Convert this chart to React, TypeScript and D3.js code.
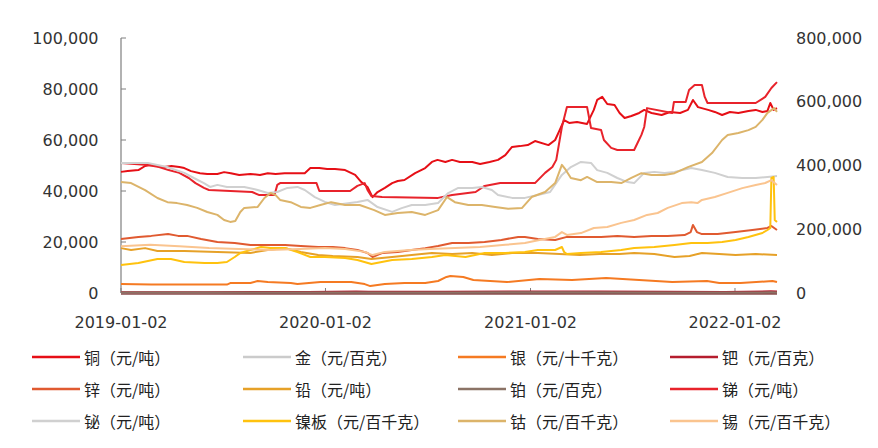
import React from "react";
import * as d3 from "d3";

type Pt = [string, number];

// ---------- data ----------
const copper: Pt[] = [["2019-01-02",47500],["2019-01-14",47800],["2019-02-02",48200],["2019-02-14",49800],["2019-02-23",50200],["2019-03-07",49800],["2019-03-20",49400],["2019-04-02",49800],["2019-04-16",49400],["2019-04-25",49000],["2019-05-07",47800],["2019-05-23",47000],["2019-06-05",46700],["2019-06-23",46700],["2019-07-05",47400],["2019-07-17",47000],["2019-08-01",46300],["2019-08-21",46700],["2019-09-07",46300],["2019-09-21",47000],["2019-10-05",46700],["2019-10-21",47000],["2019-11-06",47000],["2019-11-26",47000],["2019-12-06",49000],["2019-12-22",49000],["2020-01-05",48600],["2020-01-19",48600],["2020-02-06",48200],["2020-02-24",46300],["2020-03-06",43500],["2020-03-17",41600],["2020-03-26",37600],["2020-04-04",39600],["2020-04-17",41200],["2020-04-30",43100],["2020-05-10",43900],["2020-05-22",44300],["2020-06-10",47000],["2020-06-28",49000],["2020-07-10",51400],["2020-07-20",52200],["2020-08-03",51400],["2020-08-15",52200],["2020-08-29",51400],["2020-09-20",51400],["2020-10-04",50600],["2020-10-21",51400],["2020-11-05",52200],["2020-11-18",54100],["2020-11-30",57300],["2020-12-14",57600],["2020-12-28",58000],["2021-01-10",59600],["2021-02-03",58000],["2021-02-15",60000],["2021-02-23",63900],["2021-03-03",67800],["2021-03-12",66700],["2021-03-26",67100],["2021-04-13",66300],["2021-04-25",71800],["2021-05-01",75700],["2021-05-10",76900],["2021-05-19",74100],["2021-06-01",73700],["2021-06-10",70600],["2021-06-19",68600],["2021-07-01",69400],["2021-07-15",70600],["2021-07-24",71800],["2021-08-06",70600],["2021-08-24",69800],["2021-09-08",71000],["2021-09-26",70600],["2021-10-10",71800],["2021-10-19",75700],["2021-10-28",72900],["2021-11-15",71800],["2021-11-27",71000],["2021-12-10",69800],["2021-12-24",71000],["2022-01-08",70600],["2022-01-26",71400],["2022-02-08",71800],["2022-02-20",71000],["2022-03-01",71400],["2022-03-06",74500],["2022-03-12",71800],["2022-03-18",72500]];

const gold: Pt[] = [["2019-01-02",286],["2019-06-03",300],["2019-09-04",355],["2020-01-02",345],["2020-03-16",360],["2020-08-06",440],["2020-12-01",380],["2021-03-31",355],["2021-09-01",370],["2022-01-04",372],["2022-03-08",420],["2022-03-18",405]];

const silver: Pt[] = [["2019-01-02",3500],["2019-02-25",3300],["2019-04-25",3300],["2019-07-10",3300],["2019-07-16",3900],["2019-08-21",3900],["2019-09-03",4700],["2019-09-21",4300],["2019-11-01",3900],["2019-11-13",3500],["2019-12-24",4300],["2020-02-17",4300],["2020-03-12",3500],["2020-03-22",2700],["2020-04-17",3500],["2020-05-22",3900],["2020-06-28",3900],["2020-07-21",4700],["2020-08-05",6300],["2020-08-12",6700],["2020-09-04",6300],["2020-09-22",5100],["2020-11-21",4300],["2021-01-18",5500],["2021-03-17",5100],["2021-05-17",5900],["2021-07-15",5100],["2021-09-12",4300],["2021-11-13",4700],["2021-12-05",3900],["2022-01-12",3900],["2022-03-10",4700],["2022-03-18",4300]];

const palladium: Pt[] = [["2019-01-02",270],["2019-06-03",330],["2019-12-02",420],["2020-02-26",600],["2020-03-19",450],["2020-08-03",500],["2021-05-04",620],["2021-09-01",450],["2021-12-15",400],["2022-03-07",650],["2022-03-18",560]];

const zinc: Pt[] = [["2019-01-02",21200],["2019-02-02",22000],["2019-02-25",22400],["2019-03-27",23100],["2019-04-14",22400],["2019-04-30",22400],["2019-05-25",21200],["2019-06-23",20000],["2019-07-24",19600],["2019-08-21",18800],["2019-09-21",18800],["2019-10-22",18800],["2019-11-19",18400],["2019-12-20",18000],["2020-01-15",18000],["2020-02-06",17600],["2020-02-28",16900],["2020-03-17",15700],["2020-03-26",14100],["2020-04-12",15700],["2020-05-10",16100],["2020-06-04",16900],["2020-06-28",17600],["2020-07-21",18400],["2020-08-15",19600],["2020-09-13",19600],["2020-10-12",20000],["2020-11-11",20800],["2020-12-11",22000],["2020-12-23",22000],["2021-01-15",21200],["2021-02-15",20800],["2021-03-08",22000],["2021-04-08",22000],["2021-05-08",22000],["2021-06-06",22400],["2021-07-06",22000],["2021-08-06",22400],["2021-09-04",22400],["2021-10-04",22700],["2021-10-15",23900],["2021-10-19",26700],["2021-10-26",23900],["2021-11-04",23100],["2021-12-02",23100],["2022-01-03",23900],["2022-02-02",24700],["2022-03-01",25500],["2022-03-08",26300],["2022-03-18",24700]];

const lead: Pt[] = [["2019-01-02",17600],["2019-01-20",16900],["2019-02-14",17600],["2019-03-08",16500],["2019-04-25",16500],["2019-06-23",16100],["2019-08-21",15700],["2019-09-21",16900],["2019-10-22",17600],["2019-11-19",16100],["2019-12-20",14900],["2020-01-15",14500],["2020-02-28",14100],["2020-03-24",13300],["2020-04-30",14100],["2020-06-04",14900],["2020-07-10",15700],["2020-08-15",15300],["2020-09-20",15700],["2020-10-25",14900],["2020-11-30",15700],["2021-01-15",15700],["2021-02-23",15300],["2021-03-31",14900],["2021-05-05",15300],["2021-06-10",15300],["2021-07-06",15700],["2021-08-11",15300],["2021-09-16",14100],["2021-10-13",14500],["2021-11-04",15700],["2021-12-05",15300],["2022-01-03",14900],["2022-02-08",15300],["2022-03-18",14900]];

const platinum: Pt[] = [["2019-01-02",190],["2019-09-05",225],["2020-02-20",230],["2020-03-19",150],["2020-08-10",215],["2021-02-17",285],["2021-09-01",215],["2021-12-15",205],["2022-03-08",250],["2022-03-18",230]];

const antimony: Pt[] = [["2019-01-02",51000],["2019-02-19",50200],["2019-03-11",49400],["2019-03-28",48200],["2019-04-16",47100],["2019-05-03",45100],["2019-05-15",43100],["2019-05-30",41200],["2019-06-08",40400],["2019-08-24",39600],["2019-09-06",38400],["2019-10-03",38400],["2019-10-08",42400],["2019-10-13",43100],["2019-12-17",43100],["2019-12-22",40000],["2020-02-15",40000],["2020-02-28",42000],["2020-03-12",43100],["2020-03-17",40400],["2020-03-24",38000],["2020-04-12",37600],["2020-07-21",37300],["2020-08-15",38400],["2020-09-26",39600],["2020-10-12",42000],["2020-11-09",43100],["2021-01-10",43100],["2021-01-28",47100],["2021-02-10",49400],["2021-02-17",52200],["2021-02-27",65100],["2021-03-08",72900],["2021-04-13",72900],["2021-04-20",64700],["2021-05-08",63900],["2021-05-13",60000],["2021-05-26",56900],["2021-06-06",56100],["2021-07-06",56100],["2021-07-12",58800],["2021-07-19",62000],["2021-07-24",65100],["2021-07-29",72500],["2021-09-12",70600],["2021-09-15",74900],["2021-10-06",74900],["2021-10-12",79600],["2021-10-22",81600],["2021-11-04",81600],["2021-11-09",76900],["2021-11-14",74500],["2022-02-08",74500],["2022-02-25",76900],["2022-03-08",80400],["2022-03-18",82700]];

const bismuth: Pt[] = [["2019-01-02",51000],["2019-02-19",51000],["2019-03-25",49400],["2019-04-25",47100],["2019-05-12",45100],["2019-05-30",43100],["2019-06-10",41600],["2019-06-23",42400],["2019-07-10",41600],["2019-08-10",41600],["2019-09-03",40400],["2019-09-21",39200],["2019-10-08",39600],["2019-10-26",41200],["2019-11-13",41600],["2019-11-26",40400],["2019-12-14",37600],["2020-01-01",35700],["2020-01-19",34500],["2020-02-28",35700],["2020-03-17",36500],["2020-04-04",33700],["2020-04-30",31800],["2020-05-17",33300],["2020-06-04",34500],["2020-06-28",34500],["2020-07-21",35300],["2020-08-08",39200],["2020-08-26",41200],["2020-09-20",41200],["2020-10-07",41600],["2020-10-25",40400],["2020-11-05",38400],["2020-11-30",37300],["2020-12-23",37300],["2021-01-15",38400],["2021-02-06",39600],["2021-02-27",46300],["2021-03-15",49400],["2021-04-02",51400],["2021-04-20",51000],["2021-05-01",48200],["2021-05-19",47100],["2021-06-06",45100],["2021-06-24",43500],["2021-07-06",43100],["2021-07-24",47100],["2021-08-11",47500],["2021-08-29",47100],["2021-09-16",47500],["2021-10-16",49000],["2021-11-04",48200],["2021-11-27",47100],["2021-12-20",45500],["2022-01-15",45100],["2022-02-08",45100],["2022-03-01",45500],["2022-03-18",45900]];

const nickel: Pt[] = [["2019-01-02",87800],["2019-02-02",94100],["2019-03-08",106700],["2019-04-01",106700],["2019-04-25",97200],["2019-05-31",94100],["2019-06-23",94100],["2019-07-10",97200],["2019-07-24",112900],["2019-08-03",125500],["2019-08-21",134900],["2019-09-09",144300],["2019-09-26",141200],["2019-10-22",141200],["2019-11-13",128600],["2019-12-06",112900],["2020-01-01",112900],["2020-02-06",109800],["2020-02-28",103500],["2020-03-24",91000],["2020-04-30",103500],["2020-06-04",106700],["2020-07-10",112900],["2020-08-03",119200],["2020-09-08",112900],["2020-10-12",125500],["2020-11-18",125500],["2020-12-23",128600],["2021-01-15",134900],["2021-02-15",134900],["2021-02-27",144300],["2021-03-03",128600],["2021-03-08",122300],["2021-04-02",125500],["2021-05-08",128600],["2021-06-13",134900],["2021-07-06",141200],["2021-08-11",144300],["2021-09-16",150600],["2021-10-16",156900],["2021-11-14",156900],["2021-12-10",160000],["2022-01-03",166300],["2022-01-26",175700],["2022-02-20",188200],["2022-03-01",197600],["2022-03-06",203900],["2022-03-08",360800],["2022-03-12",363900],["2022-03-14",229000],["2022-03-18",222700]];

const cobalt: Pt[] = [["2019-01-02",348000],["2019-01-20",345000],["2019-02-14",323000],["2019-03-08",298000],["2019-03-26",285000],["2019-04-12",282000],["2019-04-30",276000],["2019-05-18",267000],["2019-06-05",254000],["2019-06-23",245000],["2019-07-05",229000],["2019-07-16",223000],["2019-07-25",226000],["2019-08-03",254000],["2019-08-10",267000],["2019-09-03",270000],["2019-09-15",298000],["2019-09-26",314000],["2019-10-05",307000],["2019-10-13",292000],["2019-11-01",285000],["2019-11-19",270000],["2019-12-06",267000],["2019-12-24",276000],["2020-01-12",285000],["2020-02-06",276000],["2020-03-03",276000],["2020-03-29",260000],["2020-04-17",245000],["2020-05-10",251000],["2020-06-04",254000],["2020-06-28",245000],["2020-07-21",260000],["2020-08-06",301000],["2020-08-20",285000],["2020-09-13",276000],["2020-10-07",276000],["2020-10-31",270000],["2020-11-23",264000],["2020-12-18",267000],["2021-01-04",301000],["2021-01-28",317000],["2021-02-15",345000],["2021-02-27",402000],["2021-03-06",386000],["2021-03-15",361000],["2021-04-02",354000],["2021-04-13",364000],["2021-05-01",348000],["2021-05-26",348000],["2021-06-13",345000],["2021-07-01",361000],["2021-07-19",376000],["2021-08-06",370000],["2021-08-29",370000],["2021-09-16",376000],["2021-10-10",395000],["2021-11-04",411000],["2021-11-22",439000],["2021-12-10",480000],["2021-12-20",496000],["2022-01-08",502000],["2022-01-26",511000],["2022-02-08",521000],["2022-02-20",543000],["2022-03-01",565000],["2022-03-13",580000],["2022-03-18",568000]];

const tin: Pt[] = [["2019-01-02",147000],["2019-02-23",151000],["2019-04-16",147000],["2019-06-08",141000],["2019-08-01",138000],["2019-09-24",135000],["2019-11-17",138000],["2020-01-01",141000],["2020-02-06",138000],["2020-03-12",129000],["2020-03-26",119000],["2020-04-17",129000],["2020-06-01",135000],["2020-07-06",138000],["2020-08-20",141000],["2020-10-04",144000],["2020-11-18",151000],["2020-12-23",157000],["2021-01-18",166000],["2021-02-15",176000],["2021-02-27",191000],["2021-03-08",182000],["2021-04-02",188000],["2021-04-25",204000],["2021-05-19",207000],["2021-06-13",220000],["2021-07-06",229000],["2021-07-29",245000],["2021-08-17",251000],["2021-09-04",267000],["2021-09-29",282000],["2021-10-16",285000],["2021-10-27",282000],["2021-11-04",292000],["2021-11-27",301000],["2021-12-20",314000],["2022-01-15",329000],["2022-02-08",339000],["2022-02-25",345000],["2022-03-08",354000],["2022-03-18",339000]];

const seriesNames = ["铜（元/吨）", "金（元/百克）", "银（元/十千克）", "钯（元/百克）", "锌（元/吨）", "铅（元/吨）", "铂（元/百克）", "锑（元/吨）", "铋（元/吨）", "镍板（元/百千克）", "钴（元/百千克）", "锡（元/百千克）"];
const seriesAxis = ["left", "left", "left", "left", "left", "left", "left", "left", "left", "right", "right", "right"];
const seriesColors = ["#e60f16", "#cbcbcb", "#f57a22", "#b51d2e", "#e05a30", "#e6a128", "#8b7366", "#e8232b", "#d0d0d0", "#ffc20e", "#dcb46a", "#fac48f"];
const seriesData = [copper, gold, silver, palladium, zinc, lead, platinum, antimony, bismuth, nickel, cobalt, tin];

const leftTicks = [0, 20000, 40000, 60000, 80000, 100000];
const rightTicks = [0, 200000, 400000, 600000, 800000];
const xTickLabels = ["2019-01-02", "2020-01-02", "2021-01-02", "2022-01-02"];
const xDomain = ["2019-01-02", "2022-03-18"];

// ---------- layout ----------
const W = 878, H = 448;
const PLOT = { left: 121, right: 777, top: 38, bottom: 293 };
const NUM_FONT = "'DejaVu Sans', sans-serif";
const CJK_FONT = "'Noto Sans CJK SC', sans-serif";

export default function App() {
  const parse = d3.timeParse("%Y-%m-%d");
  const x = d3.scaleTime()
    .domain(xDomain.map((d) => parse(d) as Date))
    .range([PLOT.left, PLOT.right]);
  const yL = d3.scaleLinear().domain([0, 100000]).range([PLOT.bottom, PLOT.top]);
  const yR = d3.scaleLinear().domain([0, 800000]).range([PLOT.bottom, PLOT.top]);
  const fmt = d3.format(",");

  const lines = seriesData.map((data, i) => {
    const y = seriesAxis[i] === "left" ? yL : yR;
    const gen = d3.line<Pt>()
      .x((d) => x(parse(d[0]) as Date))
      .y((d) => y(d[1]));
    return gen(data) || "";
  });

  const legendCols = [32, 243, 458, 670];
  const legendRows = [357, 389, 421];

  return (
    <svg width={W} height={H} style={{ position: "absolute", left: 0, top: 0, background: "#fff" }}>
      {/* x axis baseline */}
      <line x1={PLOT.left} x2={PLOT.right} y1={PLOT.bottom + 0.5} y2={PLOT.bottom + 0.5} stroke="#8a4c4c" strokeWidth={2.5} />
      {xTickLabels.map((t) => {
        const xx = x(parse(t) as Date);
        return (
          <g key={t}>
            <line x1={xx} x2={xx} y1={PLOT.bottom} y2={PLOT.bottom - 5} stroke="#7f7f7f" strokeWidth={1} />
            <text x={xx} y={322} textAnchor="middle" dominantBaseline="central" fontFamily={NUM_FONT} fontSize={16} fill="#333">{t}</text>
          </g>
        );
      })}
      {/* left axis */}
      <line x1={PLOT.left} x2={PLOT.left} y1={PLOT.top} y2={PLOT.bottom} stroke="#7f7f7f" strokeWidth={1.2} />
      {leftTicks.map((t) => (
        <g key={"l" + t}>
          <line x1={PLOT.left} x2={PLOT.left + 5} y1={yL(t)} y2={yL(t)} stroke="#7f7f7f" strokeWidth={1} />
          <text x={98.5} y={yL(t)} textAnchor="end" dominantBaseline="central" fontFamily={NUM_FONT} fontSize={16} fill="#333">{fmt(t)}</text>
        </g>
      ))}
      {rightTicks.map((t) => (
        <text key={"r" + t} x={796} y={yR(t)} textAnchor="start" dominantBaseline="central" fontFamily={NUM_FONT} fontSize={16} fill="#333">{fmt(t)}</text>
      ))}
      {/* series */}
      {lines.map((d, i) => (
        <path key={seriesNames[i]} d={d} fill="none" stroke={seriesColors[i]} strokeWidth={2} strokeLinejoin="round" />
      ))}
      {/* legend */}
      {seriesNames.map((name, i) => {
        const cx = legendCols[i % 4];
        const cy = legendRows[Math.floor(i / 4)];
        return (
          <g key={"lg" + name}>
            <line x1={cx} x2={cx + 48} y1={cy} y2={cy} stroke={seriesColors[i]} strokeWidth={2.5} />
            <text x={cx + 52} y={cy} dominantBaseline="central" fontFamily={CJK_FONT} fontSize={16} fill="#222">{name}</text>
          </g>
        );
      })}
    </svg>
  );
}
